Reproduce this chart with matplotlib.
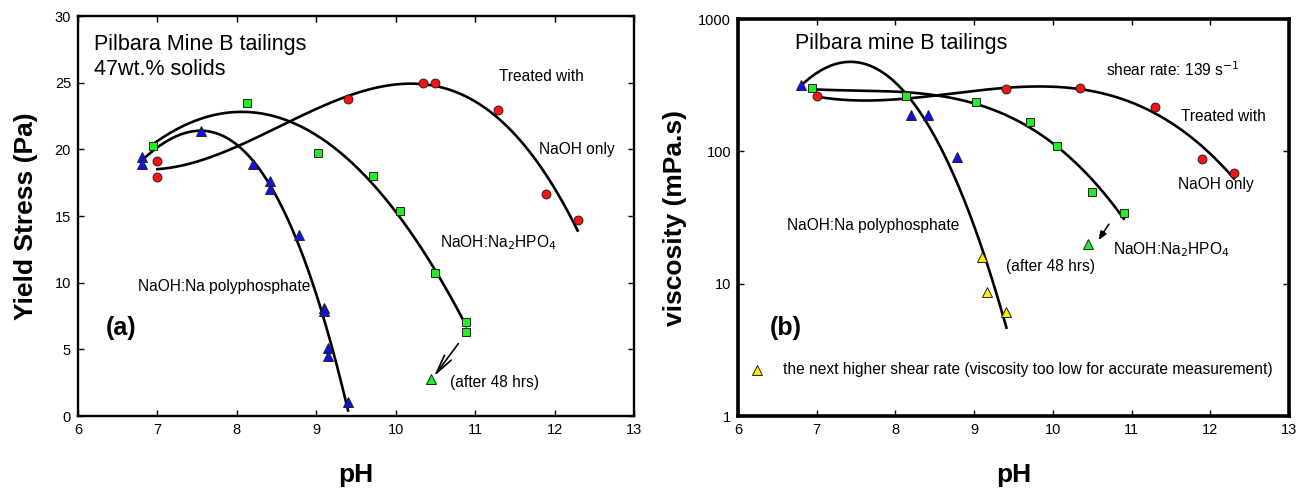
import numpy as np
import matplotlib.pyplot as plt

plt.rcParams['font.family'] = ['Liberation Sans', 'DejaVu Sans']

# ---- (a) yield stress data ----
ph_naoh_a = [7.0, 7.0, 9.40, 10.34, 10.50, 11.29, 11.89, 12.29]
ys_naoh_a = [19.15, 17.9, 23.75, 24.97, 24.97, 22.97, 16.65, 14.67]

ph_hpo4_a = [6.94, 8.13, 9.02, 9.71, 10.05, 10.50, 10.89, 10.89]
ys_hpo4_a = [20.25, 23.5, 19.7, 18.0, 15.35, 10.7, 7.07, 6.33]

ph_poly_a = [6.80, 6.80, 7.55, 8.20, 8.42, 8.42, 8.78, 9.10, 9.10, 9.15, 9.15, 9.40]
ys_poly_a = [19.4, 18.9, 21.4, 18.9, 17.6, 17.0, 13.6, 8.1, 7.9, 5.1, 4.5, 1.05]

ph_48h_a = [10.44]
ys_48h_a = [2.75]

# ---- (b) viscosity data ----
ph_naoh_b = [7.0, 9.41, 10.34, 11.30, 11.90, 12.30]
vis_naoh_b = [260, 295, 299, 218, 87.8, 69.2]

ph_hpo4_b = [6.94, 8.13, 9.02, 9.71, 10.05, 10.50, 10.90]
vis_hpo4_b = [299, 263, 237, 167, 110, 49.7, 34.5]

ph_poly_b = [6.80, 8.20, 8.42, 8.78]
vis_poly_b = [317, 189, 188, 90.4]

ph_high_b = [9.10, 9.16, 9.41]
vis_high_b = [16.0, 8.67, 6.15]

ph_48h_b = [10.45]
vis_48h_b = [20.1]

red = '#ff1010'
green = '#22ee22'
blue = '#1010ee'
yellow = '#ffee00'


def fitline(ax, x, y, deg=3, log=False):
    # cubic regression line through the points (in log space for viscosity)
    x = np.asarray(x, float)
    y = np.asarray(y, float)
    if log:
        y = np.log10(y)
    c = np.polyfit(x, y, deg)
    xx = np.linspace(x.min(), x.max(), 200)
    yy = np.polyval(c, xx)
    if log:
        yy = 10 ** yy
    ax.plot(xx, yy, color='black', lw=1.9, zorder=2)


def style(ax, lw):
    for s in ax.spines.values():
        s.set_linewidth(lw)
    ax.tick_params(direction='in', top=True, right=True, length=4, width=1,
                   labelsize=10.5, pad=5)
    ax.set_xlim(6, 13)
    ax.set_xticks(range(6, 14))
    ax.set_xlabel('pH', fontsize=19, fontweight='bold', labelpad=19)


fig = plt.figure(figsize=(13.08, 4.88), dpi=100)
ax1 = fig.add_axes([0.0596, 0.1475, 0.4251, 0.8197])
ax2 = fig.add_axes([0.5642, 0.1475, 0.4213, 0.8135])

mk = dict(markeredgecolor='#222222', markeredgewidth=0.7, linestyle='none', zorder=3)
ms_o, ms_s, ms_t = 6.4, 6.0, 7.0

# panel (a)
fitline(ax1, ph_naoh_a, ys_naoh_a)
fitline(ax1, ph_hpo4_a, ys_hpo4_a)
fitline(ax1, ph_poly_a, ys_poly_a)
ax1.plot(ph_naoh_a, ys_naoh_a, 'o', color=red, markersize=ms_o, **mk)
ax1.plot(ph_hpo4_a, ys_hpo4_a, 's', color=green, markersize=ms_s, **mk)
ax1.plot(ph_poly_a, ys_poly_a, '^', color=blue, markersize=ms_t, **mk)
ax1.plot(ph_48h_a, ys_48h_a, '^', color=green, markersize=ms_t, **mk)
ax1.annotate('', xy=(10.46, 2.8), xytext=(10.81, 5.6),
             arrowprops=dict(arrowstyle='->, head_length=1.4, head_width=0.3',
                             color='black', lw=1.2))
style(ax1, 1.7)
ax1.set_ylim(0, 30)
ax1.set_yticks(range(0, 31, 5))
ax1.set_ylabel('Yield Stress (Pa)', fontsize=19, fontweight='bold', labelpad=12)

ax1.text(6.2, 27.9, 'Pilbara Mine B tailings', fontsize=15.5, va='center')
ax1.text(6.2, 26.0, '47wt.% solids', fontsize=15.5, va='center')
ax1.text(11.3, 25.5, 'Treated with', fontsize=11.2, va='center')
ax1.text(11.8, 20.0, 'NaOH only', fontsize=11.2, va='center')
ax1.text(10.56, 13.0, 'NaOH:Na$_2$HPO$_4$', fontsize=11.2, va='center')
ax1.text(6.75, 9.7, 'NaOH:Na polyphosphate', fontsize=11.2, va='center')
ax1.text(10.69, 2.5, '(after 48 hrs)', fontsize=11.2, va='center')
ax1.text(6.35, 6.6, '(a)', fontsize=18, fontweight='bold', va='center')

# panel (b)
ax2.set_yscale('log')
fitline(ax2, ph_naoh_b, vis_naoh_b, log=True)
fitline(ax2, ph_hpo4_b, vis_hpo4_b, log=True)
fitline(ax2, ph_poly_b + ph_high_b, vis_poly_b + vis_high_b, log=True)
ax2.plot(ph_naoh_b, vis_naoh_b, 'o', color=red, markersize=ms_o, **mk)
ax2.plot(ph_hpo4_b, vis_hpo4_b, 's', color=green, markersize=ms_s, **mk)
ax2.plot(ph_poly_b, vis_poly_b, '^', color=blue, markersize=ms_t, **mk)
ax2.plot(ph_high_b, vis_high_b, '^', color=yellow, markersize=ms_t, **mk)
ax2.plot(ph_48h_b, vis_48h_b, '^', color=green, markersize=ms_t, **mk)
ax2.plot([6.245], [2.23], '^', color=yellow, markersize=ms_t, **mk)
ax2.annotate('', xy=(10.56, 20.5), xytext=(10.73, 29.3),
             arrowprops=dict(arrowstyle='-|>, head_length=0.5, head_width=0.2',
                             color='black', lw=1.2))
style(ax2, 2.6)
ax2.set_ylim(1, 1000)
ax2.set_yticks([1, 10, 100, 1000])
ax2.set_yticklabels(['1', '10', '100', '1000'])
ax2.minorticks_off()
ax2.set_ylabel('viscosity (mPa.s)', fontsize=19, fontweight='bold', labelpad=8)

ax2.text(6.73, 658, 'Pilbara mine B tailings', fontsize=15.5, va='center')
ax2.text(10.68, 414, 'shear rate: 139 s$^{-1}$', fontsize=11.2, va='center')
ax2.text(11.63, 183, 'Treated with', fontsize=11.2, va='center')
ax2.text(11.59, 56.5, 'NaOH only', fontsize=11.2, va='center')
ax2.text(10.77, 18, 'NaOH:Na$_2$HPO$_4$', fontsize=11.2, va='center')
ax2.text(9.41, 13.6, '(after 48 hrs)', fontsize=11.2, va='center')
ax2.text(6.62, 27.3, 'NaOH:Na polyphosphate', fontsize=11.2, va='center')
ax2.text(6.40, 4.66, '(b)', fontsize=18, fontweight='bold', va='center')
ax2.text(6.57, 2.23, 'the next higher shear rate (viscosity too low for accurate measurement)',
         fontsize=11.2, va='center')

fig.savefig('out.png', dpi=100)
